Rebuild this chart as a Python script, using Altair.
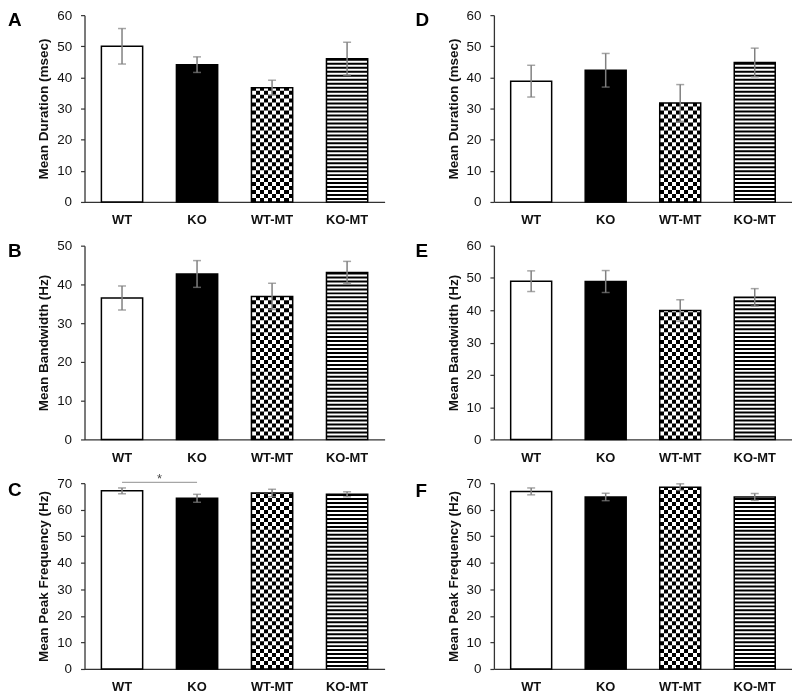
import altair as alt
import pandas as pd

groups = ["WT", "KO", "WT-MT", "KO-MT"]

dur_A = [50.0, 44.1, 36.7, 46.0]
dur_A_err = [5.7, 2.5, 2.4, 5.3]
dur_D = [38.8, 42.3, 31.8, 44.8]
dur_D_err = [5.1, 5.4, 5.9, 4.6]
bw_B = [36.5, 42.7, 36.9, 43.1]
bw_B_err = [3.1, 3.45, 3.4, 2.85]
bw_E = [49.0, 48.9, 39.9, 44.0]
bw_E_err = [3.2, 3.4, 3.35, 2.7]
pk_C = [67.1, 64.3, 66.3, 65.8]
pk_C_err = [1.1, 1.5, 1.4, 0.95]
pk_F = [66.9, 64.8, 68.5, 64.8]
pk_F_err = [1.3, 1.4, 1.25, 1.3]

title_dur = "Mean Duration (msec)"
title_bw = "Mean Bandwidth (Hz)"
title_pk = "Mean Peak Frequency (Hz)"

sig_pair_C = ["WT", "KO"]
sig_level_C = 70.3
sig_mark = "*"

FONT = "Liberation Sans"
BLACK = "#000000"
WHITE = "#ffffff"
ERR = "#808080"
AXIS = "#333333"
TXT = "#111111"


def columns_fill(ncols):
    """Vertical black/white columns across the bar (few stops, crisp)."""
    stops = []
    for i in range(ncols):
        col = BLACK if i % 2 == 0 else WHITE
        stops += [(i / ncols, col), ((i + 1) / ncols, col)]
    return alt.LinearGradient(
        gradient="linear", x1=0, y1=0, x2=1, y2=0,
        stops=[alt.GradientStop(offset=o, color=c) for o, c in stops],
    )


def panel(vals, errs, ymax, title, letter, W, H, lx, ly, sig=None):
    df = pd.DataFrame({"group": groups, "value": vals, "err": errs})
    step = W / 4.0
    bandw = step * 0.55

    xaxis = alt.Axis(
        title=None, labelAngle=0, labelFont=FONT, labelFontSize=13,
        labelFontWeight="bold", labelColor=TXT, ticks=False, tickSize=0,
        labelPadding=12, domainColor=AXIS, domainWidth=1.3, grid=False,
    )
    xscale = alt.Scale(domain=groups, paddingInner=0.45, paddingOuter=0.225)

    yaxis = alt.Axis(
        title=title, values=list(range(0, ymax + 1, 10)), labelFont=FONT,
        labelFontSize=13.5, labelColor=TXT, labelPadding=9, tickSize=4,
        tickColor=AXIS, tickWidth=1.2, domainColor=AXIS, domainWidth=1.3,
        grid=False, titleFont=FONT, titleFontSize=13.6, titleFontWeight="bold",
        titleColor=TXT, titleX=-41, titleY=H / 2.0, titleAngle=270,
        titleBaseline="middle",
    )
    yscale = alt.Scale(domain=[0, ymax], nice=False)

    def X(field="group"):
        return alt.X(f"{field}:N", sort=groups, scale=xscale, axis=xaxis)

    def Y(field="value"):
        return alt.Y(f"{field}:Q", scale=yscale, axis=yaxis)

    base = alt.Chart(df).encode(x=X(), y=Y())

    def sel(g):
        return base.transform_filter(alt.datum.group == g)

    def band_rule(g, on, off, **kw):
        # bar-wide dashed band from the bar top down to the baseline; the dash
        # phase is shifted so the pattern is anchored at the baseline
        v = vals[groups.index(g)]
        hpx = v / ymax * H
        period = on + off
        shift = period - (hpx % period)
        return sel(g).mark_rule(
            strokeWidth=bandw, strokeCap="butt", strokeDash=[on, off],
            strokeDashOffset=shift, **kw,
        ).encode(y2=alt.datum(0))

    layers = [
        sel("WT").mark_bar(fill=WHITE, stroke=BLACK, strokeWidth=1.5),
        sel("KO").mark_bar(fill=BLACK, stroke=BLACK, strokeWidth=1.5),
    ]
    # checkerboard for WT-MT: black/white columns, rows inverted by a dashed band
    layers += [
        sel("WT-MT").mark_bar(fill=columns_fill(10)),
        band_rule("WT-MT", 4, 4, color=WHITE, blend="difference"),
        sel("WT-MT").mark_bar(fill="transparent", stroke=BLACK, strokeWidth=1.5),
    ]
    # horizontal stripes for KO-MT
    layers += [
        sel("KO-MT").mark_bar(fill=WHITE),
        band_rule("KO-MT", 2, 2, color=BLACK),
        sel("KO-MT").mark_bar(fill="transparent", stroke=BLACK, strokeWidth=1.5),
    ]
    eb = alt.Chart(df).transform_calculate(
        lo="datum.value - datum.err", hi="datum.value + datum.err"
    )
    layers += [
        eb.mark_rule(color=ERR, strokeWidth=1.5).encode(x=X(), y=Y("lo"), y2="hi:Q"),
        eb.mark_tick(color=ERR, thickness=1.5, size=8).encode(x=X(), y=Y("lo")),
        eb.mark_tick(color=ERR, thickness=1.5, size=8).encode(x=X(), y=Y("hi")),
    ]
    if sig is not None:
        pair, level, mark = sig
        sdf = pd.DataFrame({"group": pair, "level": [level] * len(pair)})
        layers.append(
            alt.Chart(sdf).mark_line(color="#a6a6a6", strokeWidth=1.2).encode(x=X(), y=Y("level"))
        )
        tdf = pd.DataFrame({"group": [pair[0]], "level": [level], "t": [mark]})
        layers.append(
            alt.Chart(tdf).mark_text(
                font=FONT, fontSize=13, color="#444444", dx=step / 2.0, dy=-3,
                baseline="middle", align="center",
            ).encode(x=X(), y=Y("level"), text="t:N")
        )
    ldf = pd.DataFrame({"letter": [letter]})
    layers.append(
        alt.Chart(ldf).mark_text(
            font=FONT, fontSize=19, fontWeight="bold", align="left",
            baseline="middle", color=BLACK,
        ).encode(text="letter:N", x=alt.value(lx), y=alt.value(ly))
    )
    return alt.layer(*layers).properties(width=W, height=H)


WL, WR = 302, 300
H1, H2, H3 = 188, 195, 187

pA = panel(dur_A, dur_A_err, 60, title_dur, "A", WL, H1, -77, 5)
pD = panel(dur_D, dur_D_err, 60, title_dur, "D", WR, H1, -79, 5)
pB = panel(bw_B, bw_B_err, 50, title_bw, "B", WL, H2, -77, 5.5)
pE = panel(bw_E, bw_E_err, 60, title_bw, "E", WR, H2, -79, 5.5)
pC = panel(pk_C, pk_C_err, 70, title_pk, "C", WL, H3, -77, 7,
           sig=(sig_pair_C, sig_level_C, sig_mark))
pF = panel(pk_F, pk_F_err, 70, title_pk, "F", WR, H3, -79, 8)

chart = (
    alt.concat(pA, pD, pB, pE, pC, pF, columns=2,
               spacing={"row": 44, "column": 110}, bounds="flush")
    .properties(padding={"left": 0, "top": -2, "right": 0, "bottom": 0})
    .configure_view(stroke=None)
)

chart.save("out.html", embed_options={"renderer": "svg", "actions": False})
